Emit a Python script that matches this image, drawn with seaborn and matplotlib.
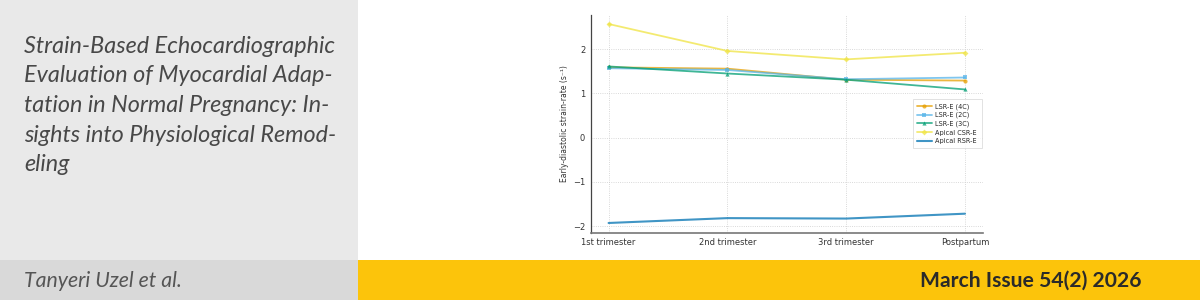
import matplotlib
matplotlib.use("Agg")
import matplotlib.pyplot as plt
import seaborn as sns
import pandas as pd
from matplotlib.patches import Rectangle

timepoints = ["1st trimester", "2nd trimester", "3rd trimester", "Postpartum"]
lsr_4c = [1.59, 1.56, 1.31, 1.29]
lsr_2c = [1.57, 1.53, 1.32, 1.36]
lsr_3c = [1.61, 1.45, 1.31, 1.09]
csr_apical = [2.57, 1.96, 1.77, 1.92]
rsr_apical = [-1.93, -1.82, -1.83, -1.72]

series_names = ["LSR-E (4C)", "LSR-E (2C)", "LSR-E (3C)", "Apical CSR-E", "Apical RSR-E"]
series_values = [lsr_4c, lsr_2c, lsr_3c, csr_apical, rsr_apical]
colors = ["#E69F00", "#56B4E9", "#009E73", "#F0E442", "#0072B2"]
markers = ["o", "s", "^", "D", None]

title = ("Strain-Based Echocardiographic\nEvaluation of Myocardial Adap-\n"
         "tation in Normal Pregnancy: In-\nsights into Physiological Remod-\neling")
author = "Tanyeri Uzel et al."
issue = "March Issue 54(2) 2026"

sns.set_style("white")
plt.rcParams['font.family'] = ['DejaVu Sans']

fig = plt.figure(figsize=(12, 3), dpi=100)
fig.patch.set_facecolor("white")

# background panels
bg = fig.add_axes([0, 0, 1, 1], zorder=-10)
bg.set_xlim(0, 1200); bg.set_ylim(300, 0); bg.axis("off")
bg.add_patch(Rectangle((0, 0), 358, 260, color="#e9e9e9", lw=0))
bg.add_patch(Rectangle((0, 260), 358, 40, color="#d9d9d9", lw=0))
bg.add_patch(Rectangle((358, 260), 842, 40, color="#fcc40b", lw=0))
bg.text(24, 36, title, fontsize=16.8, fontstyle="italic", color="#484848",
        va="top", ha="left", linespacing=1.5, family=["Lato", "DejaVu Sans"])
bg.text(24, 281, author, fontsize=15.3, fontstyle="italic",
        color="#555555", va="center", ha="left", family=["Lato", "DejaVu Sans"])
bg.text(1142, 281, issue, fontsize=15.2, fontweight="bold", color="#2a2a2a",
        va="center", ha="right", family=["Lato", "DejaVu Sans"])

ax = fig.add_axes([0.4923, 0.2243, 0.3267, 0.7267])
x = list(range(len(timepoints)))
for name, vals, c, m in zip(series_names, series_values, colors, markers):
    df = pd.DataFrame({"x": x, "y": vals})
    sns.lineplot(data=df, x="x", y="y", ax=ax, color=c, marker=m,
                 markersize=3 if m else 0, markeredgewidth=0,
                 linewidth=1.3 if m else 1.5, alpha=0.75, label=name)

ax.set_xlim(-0.15, 3.15)
ax.set_ylim(-2.15, 2.78)
ax.set_xticks(x)
ax.set_xticklabels(timepoints)
ax.set_yticks([-2, -1, 0, 1, 2])
ax.set_yticklabels(["\u22122", "\u22121", "0", "1", "2"])
ax.set_xlabel("")
ax.set_ylabel("Early-diastolic strain-rate (s\u207b\u00b9)", fontsize=5.5, color="#333333", labelpad=3)
ax.tick_params(axis="both", labelsize=6, colors="#333333", length=2, width=0.6, pad=2)
ax.grid(True, linestyle=":", color="#cccccc", linewidth=0.6)
for s in ["top", "right"]:
    ax.spines[s].set_visible(False)
ax.spines["left"].set_color("#444444")
ax.spines["left"].set_linewidth(0.9)
ax.spines["bottom"].set_color("#777777")
ax.spines["bottom"].set_linewidth(1.2)

leg = ax.legend(loc="upper right", bbox_to_anchor=(0.992, 0.606), borderaxespad=0,
                fontsize=4.7, frameon=True, handlelength=2.2, labelspacing=0.35,
                borderpad=0.4, handletextpad=0.6)
leg.get_frame().set_edgecolor("#cccccc")
leg.get_frame().set_linewidth(0.5)
leg.get_frame().set_boxstyle("square")

fig.savefig("out.png", dpi=100)
